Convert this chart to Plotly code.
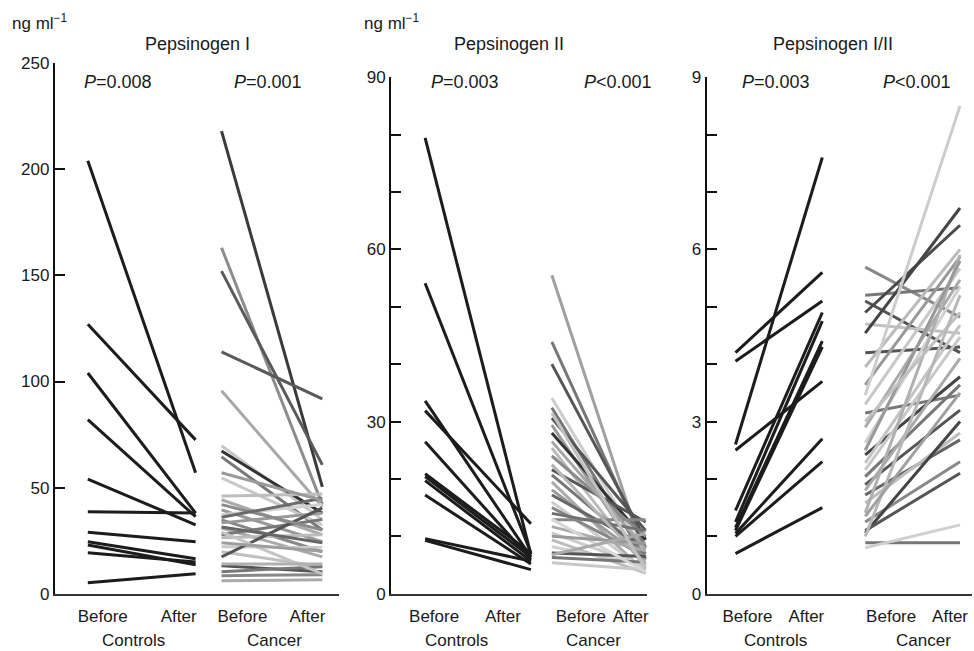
import plotly.graph_objects as go

# ---------------- DATA ----------------
# Pepsinogen I (ng/ml)
pg1_ctrl_before = [204, 127, 104, 82, 54, 38.6, 29, 24.5, 23, 19.3, 5.2]
pg1_ctrl_after = [57, 72.5, 38, 36.3, 32.5, 38, 24.5, 16.5, 13.7, 15, 9.4]
pg1_canc_before = [218, 163, 152, 114, 95.6, 69.7, 67.3, 64.5, 54.6, 44.3, 39.5, 37.2,
                   34.8, 33.4, 31, 27.8, 26.4, 22.1, 19.8, 17.4, 13.2, 10.4, 8.5, 6.1,
                   42, 36, 29, 46, 31.5, 24, 14, 57]
pg1_canc_after = [50.4, 42, 60.7, 91.8, 41, 35, 38, 30, 32.5, 27.8, 24.5, 42,
                  19.8, 38, 17.4, 35, 27.8, 22, 12.7, 40.5, 10.4, 12.7, 9, 6.6,
                  30, 45, 9.4, 47, 24, 20, 14, 44]

# Pepsinogen II (ng/ml)
pg2_ctrl_before = [79.4, 54.1, 33.6, 31.9, 26.5, 20.9, 20.4, 19.7, 17.2, 9.6, 9.3]
pg2_ctrl_after = [6.8, 7.1, 6.4, 12.2, 6.0, 7.1, 6.4, 5.7, 5.2, 5.7, 4.2]
pg2_canc_before = [55.5, 43.9, 40, 34.1, 32.4, 30.6, 29.4, 28, 25.4, 21.6, 20.7, 19.5,
                   18.1, 17.2, 16, 15, 12.9, 11.7, 10.6, 9.4, 8.2, 7.1, 6.3, 5.4,
                   24, 26.5, 14, 13, 22.5, 10, 6.8, 31.5]
pg2_canc_after = [6, 8, 9.4, 7, 6, 11, 5, 9.4, 4.5, 12.5, 7, 3.6,
                  5.9, 8.2, 4, 6.5, 12.9, 7.5, 4.7, 3.6, 5, 6.5, 5.5, 4.2,
                  10, 7.8, 11, 3.8, 5.2, 8.8, 10.5, 4.3]

# Pepsinogen I/II ratio
pgr_ctrl_before = [4.2, 4.05, 2.6, 2.5, 1.45, 1.25, 1.15, 1.1, 1.05, 1.0, 0.7]
pgr_ctrl_after = [5.6, 5.1, 7.6, 3.7, 4.9, 4.75, 4.4, 4.3, 2.7, 2.3, 1.5]
pgr_canc_before = [5.69, 5.2, 5.1, 4.9, 4.7, 4.54, 4.2, 3.95, 3.64, 3.46, 3.3, 3.15,
                   2.9, 2.63, 2.42, 2.28, 2.16, 2.04, 1.9, 1.72, 1.58, 1.41, 1.25, 1.06,
                   0.89, 0.8, 1.1, 2.5, 1.8, 3.0, 1.0, 1.35]
pgr_canc_after = [4.82, 5.33, 4.2, 6.42, 4.54, 6.72, 4.3, 6.0, 5.87, 8.5, 5.67, 3.46,
                  5.47, 5.35, 3.78, 4.68, 4.47, 3.64, 3.2, 2.68, 2.8, 5.9, 2.3, 3.0,
                  0.89, 1.2, 2.1, 5.8, 4.1, 4.9, 5.2, 3.5]

panel_titles = ["Pepsinogen I", "Pepsinogen II", "Pepsinogen I/II"]
p_controls = ["=0.008", "=0.003", "=0.003"]
p_cancer = ["=0.001", "<0.001", "<0.001"]
time_labels = ["Before", "After", "Before", "After"]
group_labels = ["Controls", "Cancer"]
unit_label = "ng ml<sup>−1</sup>"

y_ranges = [(0, 250), (0, 90), (0, 9)]
y_major_vals = [[0, 50, 100, 150, 200, 250], [0, 30, 60, 90], [0, 3, 6, 9]]
y_major_text = [["0", "50", "100", "150", "200", "250"], ["0", "30", "60", "90"], ["0", "3", "6", "9"]]
y_minor_vals = [[], [10, 20, 40, 50, 70, 80], [1, 2, 4, 5, 7, 8]]

# ---------------- STYLE / GEOMETRY ----------------
W, H = 974, 661
FONT = "Liberation Sans, Arial, sans-serif"
TXT = "#1a1a1a"

# target pixel geometry of each panel (as seen in the reference)
axis_px = [(55, 340), (392, 648), (708, 974)]
slot_px = [(88, 196, 222, 323), (426, 532, 553, 647), (737, 824, 867, 962)]
label_px = [(103, 179, 243, 308), (435, 504, 582, 632), (749, 808, 893, 952)]
group_px = [(134, 275), (457, 595), (777, 925)]
title_px = [198, 510, 835]
pc_px = [(82, 232), (430, 583), (742, 883)]
y_zero_px = 594
y_top_px = [63, 77, 77]

# measured page -> picture vertical mapping
OY, SY = 8.8, 0.972


def fx(px):
    return min(1.0, max(0.0, px / W))


def fy(py):
    return 1 - ((py - OY) / SY) / H


pg1_colors = ["#3a3a3a", "#8c8c8c", "#5a5a5a", "#5a5a5a", "#a8a8a8", "#c8c8c8", "#333333", "#777777",
              "#c8c8c8", "#aaaaaa", "#999999", "#d0d0d0", "#888888", "#999999", "#aaaaaa", "#777777",
              "#bbbbbb", "#cccccc", "#c0c0c0", "#555555", "#555555", "#777777", "#888888", "#aaaaaa",
              "#8a8a8a", "#6a6a6a", "#c4c4c4", "#bdbdbd", "#666666", "#9e9e9e", "#b0b0b0", "#9a9a9a"]
pg2_colors = ["#a0a0a0", "#777777", "#555555", "#cccccc", "#777777", "#555555", "#999999", "#333333",
              "#bbbbbb", "#555555", "#777777", "#aaaaaa", "#999999", "#666666", "#cccccc", "#888888",
              "#888888", "#aaaaaa", "#cccccc", "#bbbbbb", "#d0d0d0", "#555555", "#777777", "#c8c8c8",
              "#8a8a8a", "#a5a5a5", "#707070", "#d6d6d6", "#b5b5b5", "#999999", "#aaaaaa", "#c0c0c0"]
pgr_colors = ["#8a8a8a", "#777777", "#555555", "#4a4a4a", "#c0c0c0", "#444444", "#555555", "#bbbbbb",
              "#999999", "#cccccc", "#c8c8c8", "#777777", "#aaaaaa", "#d0d0d0", "#444444", "#c4c4c4",
              "#c8c8c8", "#777777", "#555555", "#666666", "#bdbdbd", "#b0b0b0", "#888888", "#444444",
              "#777777", "#d0d0d0", "#555555", "#999999", "#aaaaaa", "#c0c0c0", "#b8b8b8", "#a0a0a0"]

panels = [
    (pg1_ctrl_before, pg1_ctrl_after, pg1_canc_before, pg1_canc_after, pg1_colors),
    (pg2_ctrl_before, pg2_ctrl_after, pg2_canc_before, pg2_canc_after, pg2_colors),
    (pgr_ctrl_before, pgr_ctrl_after, pgr_canc_before, pgr_canc_after, pgr_colors),
]

fig = go.Figure()
annotations = []
for i, (cb, ca, kb, ka, kcol) in enumerate(panels):
    xa = "x" if i == 0 else f"x{i+1}"
    ya = "y" if i == 0 else f"y{i+1}"
    s = slot_px[i]
    for b, a, c in zip(kb, ka, kcol):
        fig.add_trace(go.Scatter(x=[s[2], s[3]], y=[b, a], mode="lines",
                                 line=dict(color=c, width=3), xaxis=xa, yaxis=ya,
                                 showlegend=False, hoverinfo="skip"))
    for b, a in zip(cb, ca):
        fig.add_trace(go.Scatter(x=[s[0], s[1]], y=[b, a], mode="lines",
                                 line=dict(color="#1c1c1c", width=3), xaxis=xa, yaxis=ya,
                                 showlegend=False, hoverinfo="skip"))

    ax_key = "xaxis" if i == 0 else f"xaxis{i+1}"
    ay_key = "yaxis" if i == 0 else f"yaxis{i+1}"
    left, right = axis_px[i]
    d0, d1 = fx(left), fx(right)
    r0 = left
    r1 = left + (d1 - d0) * W
    ydom = [fy(y_zero_px), fy(y_top_px[i])]
    fig.update_layout(**{
        ax_key: dict(domain=[d0, d1], range=[r0, r1],
                     anchor=ya, showgrid=False, zeroline=False, showline=True,
                     linecolor="#333333", linewidth=2, ticks="",
                     tickvals=list(label_px[i]), ticktext=time_labels,
                     ticklabelstandoff=6,
                     tickfont=dict(family=FONT, size=17, color=TXT)),
        ay_key: dict(domain=ydom, range=list(y_ranges[i]),
                     anchor=xa, showgrid=False, zeroline=False, showline=True,
                     linecolor="#111111", linewidth=2, ticks="inside", ticklen=10,
                     tickwidth=1.5, tickcolor="#111111",
                     tickvals=y_major_vals[i], ticktext=y_major_text[i],
                     minor=dict(tickvals=y_minor_vals[i], ticks="inside", ticklen=10,
                                tickwidth=1.5, tickcolor="#111111"),
                     tickfont=dict(family=FONT, size=17, color=TXT)),
    })

    annotations.append(dict(text=panel_titles[i], x=fx(title_px[i]), y=fy(44), xref="paper",
                            yref="paper", xanchor="center", yanchor="middle", showarrow=False,
                            font=dict(family=FONT, size=18, color=TXT)))
    for txt, xp in zip((p_controls[i], p_cancer[i]), pc_px[i]):
        annotations.append(dict(text="<i>P</i>" + txt, x=fx(xp), y=fy(82), xref="paper",
                                yref="paper", xanchor="left", yanchor="middle", showarrow=False,
                                font=dict(family=FONT, size=18, color=TXT)))
    for g, xp in zip(group_labels, group_px[i]):
        annotations.append(dict(text=g, x=fx(xp), y=fy(641), xref="paper", yref="paper",
                                xanchor="center", yanchor="middle", showarrow=False,
                                font=dict(family=FONT, size=17, color=TXT)))

for xp in (10, 363):
    annotations.append(dict(text=unit_label, x=fx(xp), y=fy(22), xref="paper", yref="paper",
                            xanchor="left", yanchor="middle", showarrow=False,
                            font=dict(family=FONT, size=17, color=TXT)))

fig.update_layout(width=W, height=H, margin=dict(l=0, r=0, t=0, b=0),
                  paper_bgcolor="white", plot_bgcolor="white",
                  annotations=annotations, showlegend=False)

fig.write_html("out.html", config={"responsive": False, "displayModeBar": False},
               post_script="document.body.style.margin='0';document.body.style.overflow='hidden';")
